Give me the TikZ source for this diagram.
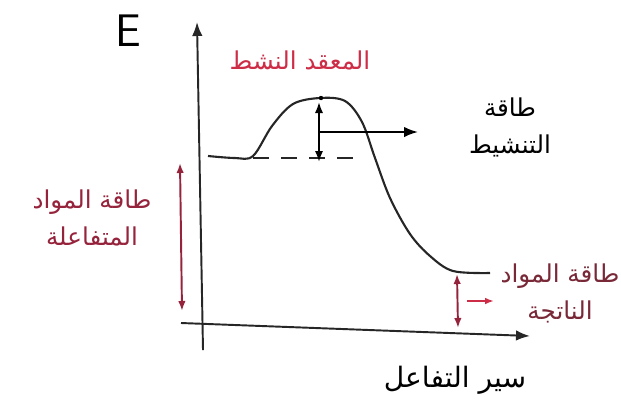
\documentclass[tikz,border=0pt]{standalone}
\usepackage{fontspec}
\usepackage{tikz}
\usetikzlibrary{arrows.meta}
\TeXXeTstate=1
\newfontfamily\arabicfont[Script=Arabic]{DejaVu Sans}
\newcommand{\rtl}[1]{\beginR#1\endR}
\definecolor{inkred}{RGB}{205,45,70}
\definecolor{inkmaroon}{RGB}{150,35,60}
\definecolor{inkdark}{RGB}{120,40,55}
\tikzset{
  axisline/.style={draw=black!85, line width=1.1pt, -{Latex[length=2.8mm]}},
  curveline/.style={draw=black!85, line width=1.2pt},
  earrow/.style={draw=black, line width=1.1pt, {Latex[length=2.2mm]}-{Latex[length=2.2mm]}},
  redarrow/.style={draw=inkmaroon, line width=1.1pt, {Latex[length=2mm]}-{Latex[length=2mm]}},
  arlbl/.style={font=\arabicfont\fontsize{14}{21}\selectfont, align=center, inner sep=1pt}
}

\begin{document}
\begin{tikzpicture}[x=0.02cm, y=-0.02cm]
        \useasboundingbox (0,0) rectangle (621,407);
        % axes
        \coordinate (ybot) at (203,350);
        \coordinate (ytop) at (197,22);
        \coordinate (xleft) at (181,323);
        \coordinate (xright) at (530,336);
        \draw[axisline] (ybot) -- (ytop);
        \draw[axisline] (xleft) -- (xright);
        \node[font=\sffamily\fontsize{26}{28}\selectfont, inner sep=0pt] (elbl) at (128,31) {E};
        % energy curve
        \draw[curveline] plot[smooth, tension=0.55] coordinates {
          (208,156) (235,158) (253,156) (272,126) (293,104) (320,98) (345,101)
          (362,122) (375,158) (390,198) (410,234) (430,256) (453,271) (490,273)};
        \coordinate (dashA) at (253,158);
        \coordinate (dashB) at (358,158);
        \draw[black!85, line width=1.1pt, dash pattern=on 9pt off 7pt] (dashA) -- (dashB);
        % activation energy
        \coordinate (peak) at (321,98);
        \coordinate (eatop) at (319,102);
        \coordinate (eabot) at (319,162);
        \coordinate (eamid) at (319,132);
        \coordinate (eaend) at (418,132);
        \fill[black] (peak) circle (2.2);
        \draw[earrow] (eabot) -- (eatop);
        \draw[black, line width=1.1pt, -{Latex[length=2.8mm]}] (eamid) -- (eaend);
        % reactants energy
        \coordinate (rtop) at (180,163);
        \coordinate (rbot) at (182,311);
        \draw[redarrow] (rbot) -- (rtop);
        % products energy
        \coordinate (ptop) at (457,274);
        \coordinate (pbot) at (458,328);
        \coordinate (pa) at (467,301);
        \coordinate (pb) at (494,301);
        \draw[redarrow] (pbot) -- (ptop);
        \draw[inkred, line width=1pt, -{Latex[length=1.8mm]}] (pa) -- (pb);
        % labels
        \node[arlbl, text=inkred]    (complex)  at (300,60)  {\rtl{المعقد النشط}};
        \node[arlbl, text=black]     (actlbl)   at (510,127) {\rtl{طاقة}\\\rtl{التنشيط}};
        \node[arlbl, text=inkmaroon] (reactlbl) at (92,218)  {\rtl{طاقة المواد}\\\rtl{المتفاعلة}};
        \node[arlbl, text=inkdark]   (prodlbl)  at (560,293) {\rtl{طاقة المواد}\\\rtl{الناتجة}};
        \node[arlbl, text=black, font=\arabicfont\fontsize{16}{20}\selectfont] (progress) at (455,380) {\rtl{سير التفاعل}};
      \end{tikzpicture}
\end{document}
